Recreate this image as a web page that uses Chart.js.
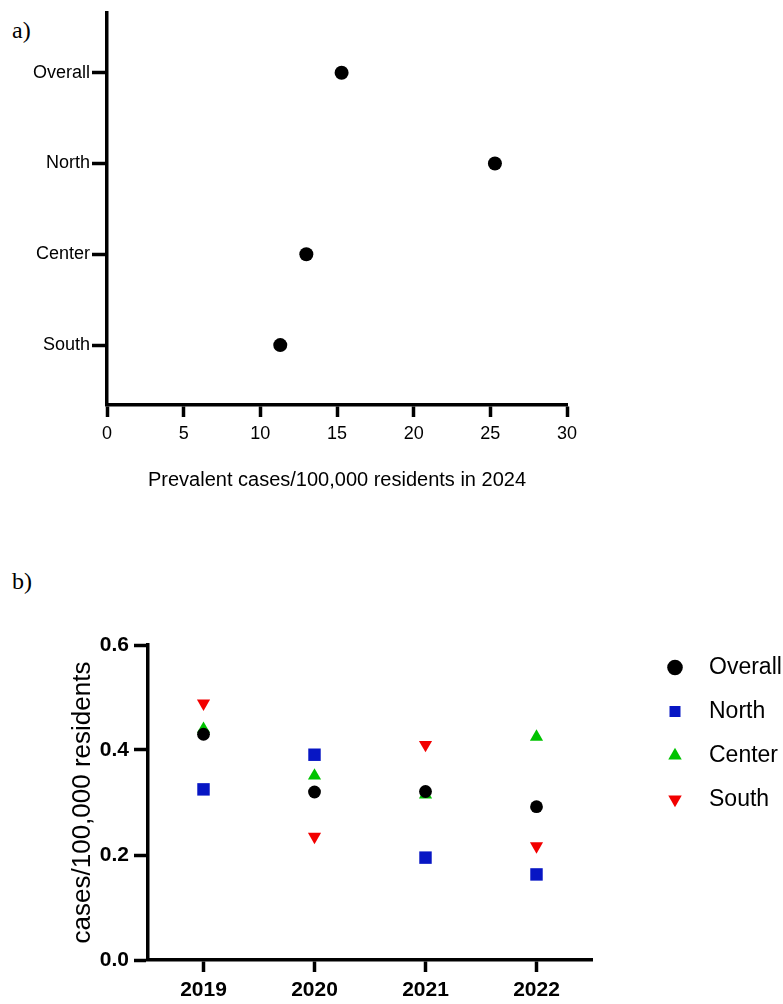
<!DOCTYPE html>
<html>
<head>
<meta charset="utf-8">
<script src="https://cdn.jsdelivr.net/npm/chart.js@4.4.1/dist/chart.umd.min.js"></script>
<style>
  body { margin: 0; background: #fff; width: 783px; height: 1004px; position: relative; overflow: hidden; }
  .tag { position: absolute; left: 12px; font: 24px 'Liberation Serif', 'Times New Roman', serif; line-height: 24px; color: #000; }
  #wa { position: absolute; left: 0; top: 0; width: 783px; height: 500px; }
  #wb { position: absolute; left: 0; top: 500px; width: 783px; height: 504px; }
</style>
</head>
<body>
<div class="tag" style="top:18px">a)</div>
<div class="tag" style="top:569px">b)</div>
<div id="wa"><canvas id="prev"></canvas></div>
<div id="wb"><canvas id="inc"></canvas></div>
<script>
// panel a
const regions = ['Overall', 'North', 'Center', 'South'];
const prevalence2024 = [15.3, 25.3, 13.0, 11.3];
const prevTicks = [0, 5, 10, 15, 20, 25, 30];

// panel b
const years = [2019, 2020, 2021, 2022];
const overall = [0.43, 0.32, 0.321, 0.292];
const north = [0.325, 0.391, 0.195, 0.163];
const center = [0.44, 0.351, 0.315, 0.425];
const south = [0.489, 0.235, 0.41, 0.217];
const rateTicks = [0, 0.2, 0.4, 0.6];

const sans = "'Liberation Sans', Arial, sans-serif";
const AX = 3.5;

const axisGrid = (len) => ({ display: true, drawOnChartArea: false, tickLength: len, tickWidth: AX, tickColor: '#000' });
const axisBorder = { display: true, color: '#000', width: AX };

new Chart('prev', {
  type: 'scatter',
  data: {
    datasets: [{
      label: 'Prevalence',
      data: regions.map((r, i) => ({ x: prevalence2024[i], y: regions.length - i })),
      backgroundColor: '#000',
      borderWidth: 0,
      pointRadius: 7,
      pointHoverRadius: 7
    }]
  },
  options: {
    responsive: true,
    maintainAspectRatio: false,
    animation: false,
    events: [],
    layout: { padding: { top: 12, right: 216, bottom: 0, left: 0 } },
    plugins: { legend: { display: false }, tooltip: { enabled: false } },
    scales: {
      x: {
        type: 'linear', min: 0, max: 30,
        afterBuildTicks: s => { s.ticks = prevTicks.map(v => ({ value: v })); },
        afterFit: s => { s.height = 95; },
        grid: axisGrid(12),
        border: axisBorder,
        ticks: { color: '#000', font: { family: sans, size: 18 }, padding: 6, maxRotation: 0 },
        title: {
          display: true, text: 'Prevalent cases/100,000 residents in 2024', color: '#000',
          font: { family: sans, size: 20 }, padding: { top: 0, bottom: 8 }
        }
      },
      y: {
        type: 'linear', min: 0.34, max: 4.66,
        afterBuildTicks: s => { s.ticks = regions.map((r, i) => ({ value: regions.length - i })); },
        afterFit: s => { s.width = 107; },
        grid: axisGrid(15),
        border: axisBorder,
        ticks: {
          color: '#000', font: { family: sans, size: 18 }, padding: 2,
          callback: v => regions[regions.length - v]
        }
      }
    }
  }
});

// pulls the legend column up a bit so rows line up with the figure
const legendNudge = {
  id: 'legendNudge',
  afterLayout(chart) {
    const l = chart.legend;
    if (l) { l.top -= 10; l.bottom -= 10; }
  }
};

const series = (label, vals, color, style, radius, rot) => ({
  label: label,
  data: years.map((y, i) => ({ x: y, y: vals[i] })),
  backgroundColor: color,
  borderColor: color,
  borderWidth: 0,
  pointStyle: style,
  pointRotation: rot || 0,
  pointRadius: radius,
  pointHoverRadius: radius
});

new Chart('inc', {
  type: 'scatter',
  data: {
    datasets: [
      series('Overall', overall, '#000000', 'circle', 6.4),
      series('North', north, '#0716c4', 'rect', 8.8),
      series('Center', center, '#00c300', 'triangle', 7.6),
      series('South', south, '#f20000', 'triangle', 7.6, 180)
    ]
  },
  options: {
    responsive: true,
    maintainAspectRatio: false,
    animation: false,
    events: [],
    layout: { padding: { top: 145, right: 0, bottom: 0, left: 0 } },
    plugins: {
      tooltip: { enabled: false },
      legend: {
        position: 'right',
        align: 'start',
        maxWidth: 140,
        labels: {
          usePointStyle: true,
          boxWidth: 22,
          boxHeight: 11,
          padding: 21,
          color: '#000',
          font: { family: sans, size: 23 },
          generateLabels: ch => Chart.defaults.plugins.legend.labels.generateLabels(ch)
            .map(l => ({ ...l, text: '\u2002' + l.text }))
        }
      }
    },
    scales: {
      x: {
        type: 'linear', min: 2018.5, max: 2022.5,
        afterBuildTicks: s => { s.ticks = years.map(v => ({ value: v })); },
        afterFit: s => { s.height = 44; },
        grid: axisGrid(12),
        border: axisBorder,
        ticks: { color: '#000', font: { family: sans, size: 21, weight: 'bold' }, padding: 6, maxRotation: 0, callback: v => String(v) }
      },
      y: {
        type: 'linear', min: 0, max: 0.6,
        afterBuildTicks: s => { s.ticks = rateTicks.map(v => ({ value: v })); },
        afterFit: s => { s.width = 148; },
        grid: axisGrid(14),
        border: axisBorder,
        ticks: { color: '#000', font: { family: sans, size: 21, weight: 'bold' }, padding: 5, callback: v => v.toFixed(1) },
        title: {
          display: true, text: 'cases/100,000 residents', color: '#000',
          font: { family: sans, size: 26 }, padding: { top: 67, bottom: 0 }
        }
      },
      gap: {
        position: 'right', display: true,
        grid: { display: false }, border: { display: false }, ticks: { display: false },
        afterFit: s => { s.width = 51; }
      }
    }
  },
  plugins: [legendNudge]
});
</script>
</body>
</html>
